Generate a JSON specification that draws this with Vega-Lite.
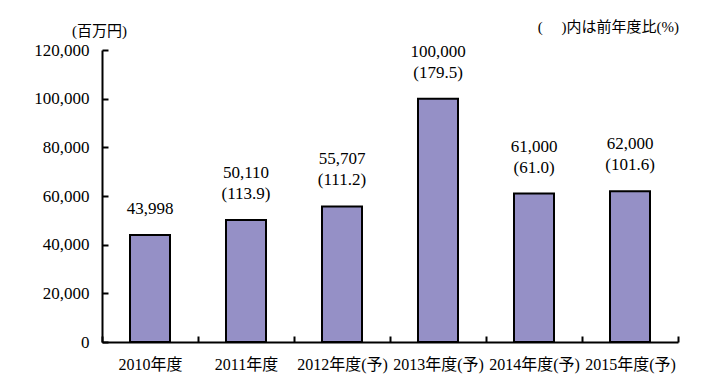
{
  "$schema": "https://vega.github.io/schema/vega-lite/v6.json",
  "width": 576,
  "height": 292,
  "autosize": "none",
  "padding": {"left": 102, "top": 50, "right": 39, "bottom": 50},
  "background": "white",
  "config": {
    "view": {"stroke": null},
    "font": "Liberation Serif, Noto Sans CJK JP",
    "axis": {"grid": false, "domainColor": "black", "domainWidth": 2, "tickColor": "black", "tickWidth": 2, "labelColor": "black", "labelFont": "Liberation Serif, Noto Sans CJK JP", "labelFontSize": 17, "titleFont": "Liberation Serif, Noto Sans CJK JP"}
  },
  "title": {"text": "(　 )内は前年度比(%)", "anchor": "end", "fontSize": 15, "fontWeight": "normal", "font": "Liberation Serif, Noto Sans CJK JP", "color": "black", "offset": 14, "dy": 26},
  "data": {"values": [
    {"year": "2010年度", "value": 43998, "line1": "", "line2": "43,998"},
    {"year": "2011年度", "value": 50110, "line1": "50,110", "line2": "(113.9)"},
    {"year": "2012年度(予)", "value": 55707, "line1": "55,707", "line2": "(111.2)"},
    {"year": "2013年度(予)", "value": 100000, "line1": "100,000", "line2": "(179.5)"},
    {"year": "2014年度(予)", "value": 61000, "line1": "61,000", "line2": "(61.0)"},
    {"year": "2015年度(予)", "value": 62000, "line1": "62,000", "line2": "(101.6)"}
  ]},
  "encoding": {
    "x": {"field": "year", "type": "nominal", "sort": null, "scale": {"paddingInner": 0, "paddingOuter": 0},
      "axis": {"title": null, "labelAngle": 0, "tickBand": "extent", "tickSize": -6, "labelPadding": 20, "labelFontSize": 16}},
    "y": {"field": "value", "type": "quantitative", "scale": {"domain": [0, 120000]},
      "axis": {"values": [0, 20000, 40000, 60000, 80000, 100000, 120000], "format": ",.0f", "tickSize": -6, "labelPadding": 19,
        "title": "(百万円)", "titleAngle": 0, "titleX": -3, "titleY": -20, "titleAlign": "center", "titleBaseline": "middle", "titleFontSize": 15, "titleFontWeight": "normal", "titleColor": "black"}}
  },
  "layer": [
    {"mark": {"type": "bar", "size": 40, "color": "#9590C6", "stroke": "black", "strokeWidth": 2}},
    {"mark": {"type": "text", "baseline": "middle", "dy": -26, "fontSize": 17, "color": "black"},
      "encoding": {"text": {"field": "line2"}}},
    {"mark": {"type": "text", "baseline": "middle", "dy": -47, "fontSize": 17, "color": "black"},
      "encoding": {"text": {"field": "line1"}}}
  ]
}
